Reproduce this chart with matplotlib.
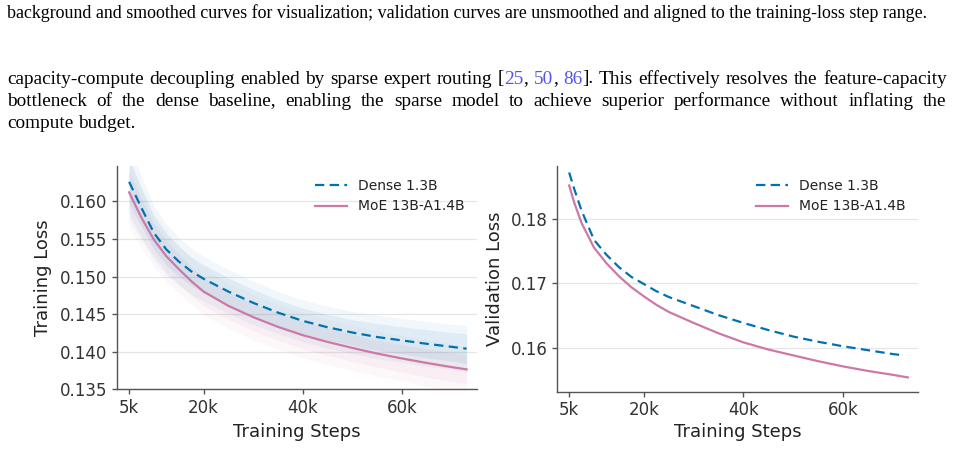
"""Training / validation loss curves, Dense 1.3B vs MoE 13B-A1.4B, with page text."""

import matplotlib
matplotlib.use("Agg")
import matplotlib.pyplot as plt
from matplotlib.ticker import FixedLocator, FuncFormatter
import numpy as np

W, H, DPI = 954, 474, 100

# ---- data --------------------------------------------------------------
train_steps = [5000, 7500, 10000, 12500, 15000, 17500, 20000, 25000, 30000,
               35000, 40000, 45000, 50000, 55000, 60000, 65000, 70000, 73000]
dense_train = [0.1626, 0.1591, 0.1558, 0.1536, 0.1520, 0.1507, 0.1497, 0.1480,
               0.1465, 0.1452, 0.1441, 0.14325, 0.14255, 0.14195, 0.1415,
               0.14105, 0.14065, 0.1404]
moe_train = [0.1612, 0.1578, 0.1549, 0.1527, 0.1510, 0.1494, 0.1480, 0.1461,
             0.1446, 0.1433, 0.1422, 0.1413, 0.1405, 0.13975, 0.1391, 0.1385,
             0.13795, 0.13765]
# spread of the raw (unsmoothed) loss around the smoothed curve
dense_core = [0.0030, 0.0025, 0.0022, 0.0021, 0.0020, 0.0019, 0.0019, 0.0018,
              0.0018, 0.0017, 0.0017, 0.0017, 0.0017, 0.0018, 0.0018, 0.0019,
              0.0019, 0.0020]
dense_peak = [0.0050, 0.0042, 0.0036, 0.0034, 0.0032, 0.0031, 0.0030, 0.0029,
              0.0029, 0.0028, 0.0028, 0.0028, 0.0028, 0.0029, 0.0029, 0.0030,
              0.0030, 0.0031]
moe_core = [0.0028, 0.0025, 0.0022, 0.0021, 0.0020, 0.0019, 0.0019, 0.0018,
            0.0018, 0.0018, 0.0018, 0.0018, 0.0018, 0.0018, 0.0018, 0.0019,
            0.0019, 0.0019]
moe_peak = [0.0046, 0.0040, 0.0036, 0.0034, 0.0032, 0.0031, 0.0031, 0.0030,
            0.0030, 0.0030, 0.0030, 0.0030, 0.0030, 0.0030, 0.0030, 0.0031,
            0.0031, 0.0031]

dense_val_steps = [5000, 6000, 7500, 10000, 12500, 15000, 17500, 20000, 22500,
                   25000, 30000, 35000, 40000, 45000, 50000, 55000, 60000,
                   65000, 70000, 72300]
dense_val = [0.1871, 0.1846, 0.1812, 0.1767, 0.1744, 0.1725, 0.1710, 0.1699,
             0.1688, 0.1679, 0.1665, 0.1651, 0.1639, 0.1628, 0.1618, 0.1610,
             0.1603, 0.1597, 0.1591, 0.1589]
moe_val_steps = [5000, 6000, 7500, 10000, 12500, 15000, 17500, 20000, 22500,
                 25000, 30000, 35000, 40000, 45000, 50000, 55000, 60000,
                 65000, 70000, 73000]
moe_val = [0.1851, 0.1825, 0.1793, 0.1755, 0.1731, 0.1711, 0.1694, 0.1680,
           0.1667, 0.1656, 0.1639, 0.1623, 0.1609, 0.1598, 0.1589, 0.1580,
           0.1572, 0.1565, 0.1559, 0.1555]

step_ticks = [5000, 20000, 40000, 60000]
series_labels = ["Dense 1.3B", "MoE 13B-A1.4B"]

DENSE_C = "#0072B2"
MOE_C = "#CC79A7"
CITE_C = "#5353f2"

caption = ("background and smoothed curves for visualization; validation curves "
           "are unsmoothed and aligned to the training-loss step range.")
body_lines = [
    "capacity-compute decoupling enabled by sparse expert routing "
    "[{25}, {50}, {86}]. This effectively resolves the feature-capacity",
    "bottleneck of the dense baseline, enabling the sparse model to achieve "
    "superior performance without inflating the",
    "compute budget.",
]

# ---- figure -------------------------------------------------------------
plt.rcParams["font.family"] = "DejaVu Sans"
fig = plt.figure(figsize=(W / DPI, H / DPI), dpi=DPI)
renderer = fig.canvas.get_renderer()
SERIF = "Liberation Serif"


def px_box(x0, y_top, x1, y_bot):
    return [x0 / W, 1 - y_bot / H, (x1 - x0) / W, (y_bot - y_top) / H]


def text_width(s, size):
    t = fig.text(0, 0, s, fontsize=size, family=SERIF)
    w = t.get_window_extent(renderer).width
    t.remove()
    return w


def split_segments(word):
    # "{25}," -> [("25", cite), (",", black)]
    segs, buf = [], ""
    for ch in word:
        if ch == "{":
            if buf:
                segs.append((buf, "black"))
            buf = ""
        elif ch == "}":
            segs.append((buf, CITE_C))
            buf = ""
        else:
            buf += ch
    if buf:
        segs.append((buf, "black"))
    return segs


def draw_line(line, x0, x1, baseline, size, justify):
    words = [split_segments(w) for w in line.split(" ")]
    widths = [[text_width(s, size) for s, _ in w] for w in words]
    totals = [sum(w) for w in widths]
    if justify and len(words) > 1:
        gap = (x1 - x0 - sum(totals)) / (len(words) - 1)
    else:
        gap = text_width("a b", size) - text_width("ab", size)
    x = x0
    for segs, ws, tot in zip(words, widths, totals):
        xs = x
        for (s, c), w in zip(segs, ws):
            fig.text(xs / W, 1 - baseline / H, s, fontsize=size, family=SERIF,
                     color=c, va="baseline", ha="left")
            xs += w
        x += tot + gap


# caption line sized to its width in the reference
cap_size = 12 * (926.7 - 7.3) / text_width(caption, 12)
fig.text(7.3 / W, 1 - 18.3 / H, caption, fontsize=cap_size, family=SERIF,
         va="baseline", ha="left", color="black")

# body size: largest that keeps both justified lines at or under full width
plain = [l.replace("{", "").replace("}", "") for l in body_lines]
body_size = min(12 * 932 / text_width(plain[0], 12),
                12 * 915 / text_width(plain[1], 12))
for i, (line, base) in enumerate(zip(body_lines, [83.5, 105.5, 127.5])):
    draw_line(line, 7.3, 946.7, base, body_size, justify=(i < 2))

# ---- axes ---------------------------------------------------------------
ax1 = fig.add_axes(px_box(117.3, 166, 477, 389.3))
ax2 = fig.add_axes(px_box(557.3, 166, 918.3, 391.7))

ts = np.array(train_steps)
dt, mt = np.array(dense_train), np.array(moe_train)
for curve, core, peak, c in [(mt, moe_core, moe_peak, MOE_C),
                             (dt, dense_core, dense_peak, DENSE_C)]:
    ax1.fill_between(ts, curve - np.array(peak), curve + np.array(peak),
                     color=c, alpha=0.05, lw=0)
    ax1.fill_between(ts, curve - np.array(core), curve + np.array(core),
                     color=c, alpha=0.08, lw=0)

ax1.plot(train_steps, dense_train, color=DENSE_C, lw=1.6, ls=(0, (4.2, 2.4)),
         label=series_labels[0])
ax1.plot(train_steps, moe_train, color=MOE_C, lw=1.6, label=series_labels[1])

ax2.plot(dense_val_steps, dense_val, color=DENSE_C, lw=1.6, ls=(0, (4.2, 2.4)),
         label=series_labels[0])
ax2.plot(moe_val_steps, moe_val, color=MOE_C, lw=1.6, label=series_labels[1])

ax1.set_ylim(0.135, 0.1647)
ax1.set_yticks([0.135, 0.140, 0.145, 0.150, 0.155, 0.160])
ax1.yaxis.set_major_formatter(FuncFormatter(lambda v, _: f"{v:.3f}"))
ax2.set_ylim(0.1533, 0.1881)
ax2.set_yticks([0.16, 0.17, 0.18])
ax2.yaxis.set_major_formatter(FuncFormatter(lambda v, _: f"{v:.2f}"))

for ax, ylab, ylx, xly in [(ax1, "Training Loss", -0.207, -0.19),
                           (ax2, "Validation Loss", -0.173, -0.179)]:
    ax.set_xlim(2620, 75100)
    ax.xaxis.set_major_locator(FixedLocator(step_ticks))
    ax.xaxis.set_major_formatter(FuncFormatter(lambda v, _: f"{int(v / 1000)}k"))
    ax.grid(axis="y", color="#e6e6e6", lw=0.9)
    ax.set_axisbelow(True)
    for side in ("top", "right"):
        ax.spines[side].set_visible(False)
    for side in ("left", "bottom"):
        ax.spines[side].set_color("#555555")
        ax.spines[side].set_linewidth(1.0)
    ax.tick_params(axis="both", labelsize=12, colors="#555555",
                   labelcolor="#333333", length=3.5, width=1.0, pad=3.5)
    ax.set_xlabel("Training Steps", fontsize=13, color="#222222", va="center")
    ax.set_ylabel(ylab, fontsize=13, color="#222222", va="center")
    ax.xaxis.set_label_coords(0.5, xly)
    ax.yaxis.set_label_coords(ylx, 0.5)
    leg = ax.legend(loc="upper right", frameon=False, fontsize=10,
                    handlelength=2.3)
    for t in leg.get_texts():
        t.set_color("#222222")

fig.savefig("out.png", dpi=DPI)
